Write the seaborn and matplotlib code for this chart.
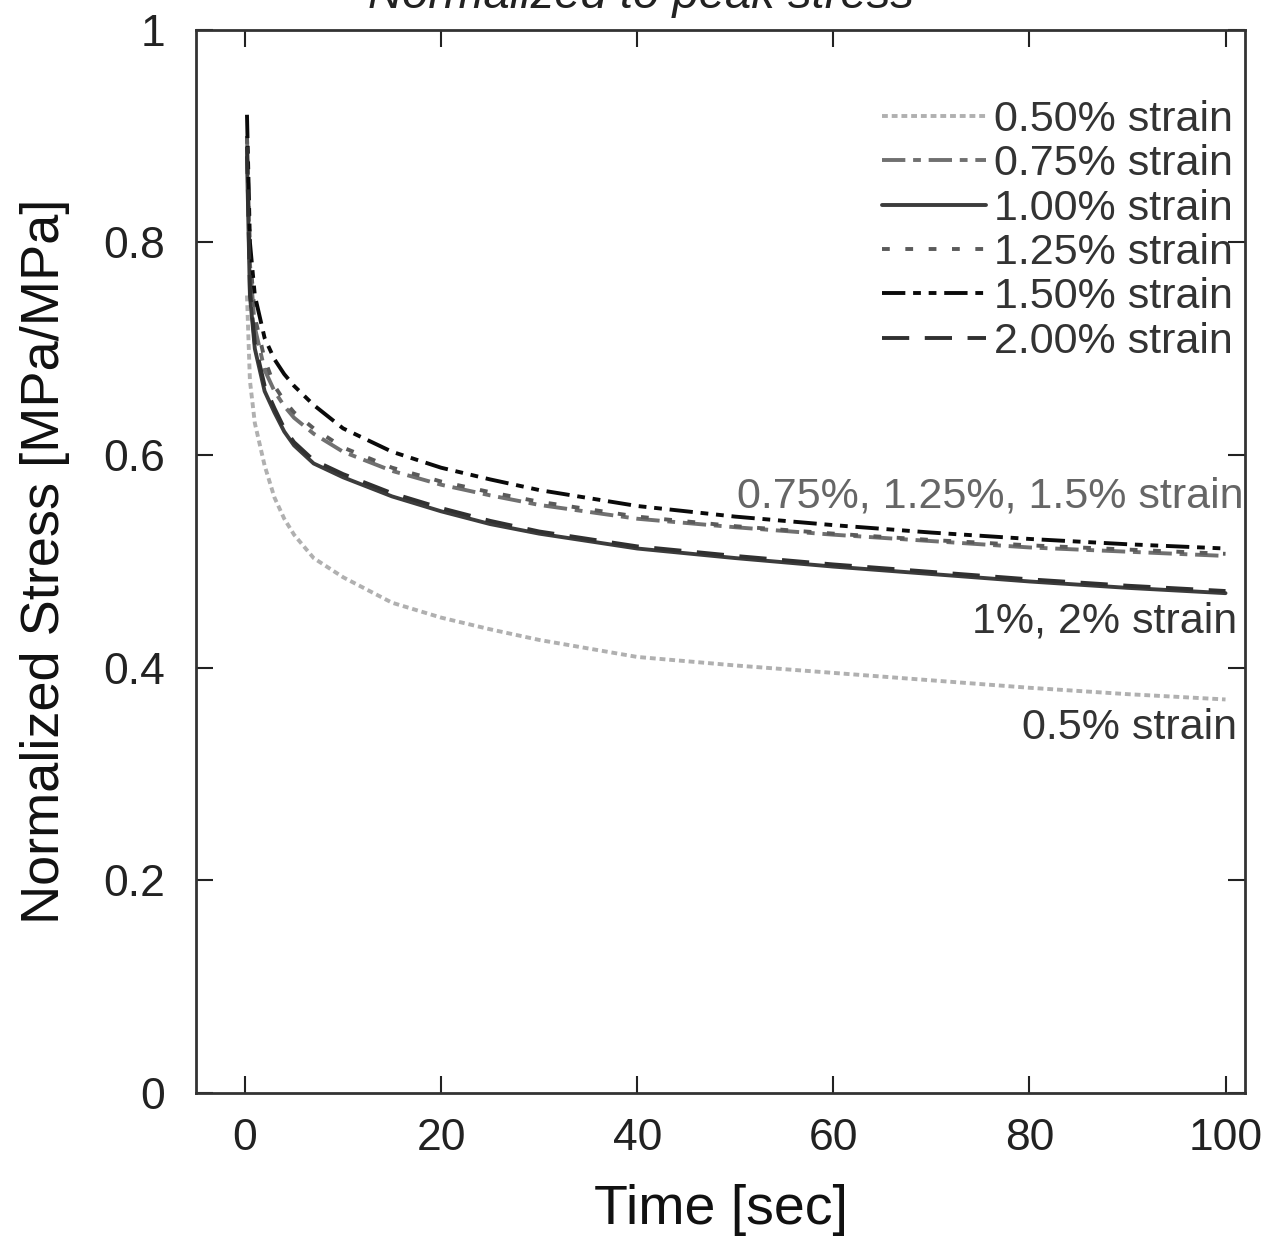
import numpy as np
import pandas as pd
import matplotlib
matplotlib.use('Agg')
import matplotlib.pyplot as plt
import seaborn as sns

# time points [sec]
time = [0.2, 0.5, 1, 2, 3, 4, 5, 7, 10, 15, 20, 25, 30, 40, 50, 60, 70, 80, 90, 100]

# normalized stress for each strain level
s050 = [0.75, 0.67, 0.63, 0.59, 0.56, 0.54, 0.525, 0.503, 0.485, 0.461, 0.447, 0.436, 0.426, 0.41, 0.402, 0.395, 0.388, 0.381, 0.375, 0.37]
s075 = [0.90, 0.78, 0.72, 0.68, 0.66, 0.646, 0.635, 0.62, 0.603, 0.585, 0.572, 0.562, 0.553, 0.54, 0.532, 0.525, 0.519, 0.513, 0.509, 0.505]
s100 = [0.88, 0.75, 0.70, 0.66, 0.64, 0.622, 0.609, 0.592, 0.579, 0.561, 0.547, 0.535, 0.526, 0.512, 0.503, 0.495, 0.488, 0.481, 0.475, 0.47]
s125 = [0.90, 0.79, 0.73, 0.69, 0.665, 0.651, 0.64, 0.625, 0.607, 0.588, 0.575, 0.565, 0.556, 0.542, 0.533, 0.526, 0.520, 0.515, 0.511, 0.507]
s150 = [0.92, 0.80, 0.75, 0.71, 0.69, 0.676, 0.665, 0.647, 0.625, 0.603, 0.588, 0.577, 0.567, 0.552, 0.542, 0.534, 0.527, 0.521, 0.516, 0.512]
s200 = [0.89, 0.755, 0.705, 0.665, 0.644, 0.625, 0.612, 0.595, 0.582, 0.564, 0.550, 0.538, 0.528, 0.514, 0.505, 0.497, 0.490, 0.483, 0.477, 0.472]

labels = ['0.50% strain', '0.75% strain', '1.00% strain', '1.25% strain', '1.50% strain', '2.00% strain']
series = [s050, s075, s100, s125, s150, s200]
colors = ['#b0b0b0', '#707070', '#3c3c3c', '#5a5a5a', '#0a0a0a', '#303030']
styles = [(0, (1.5, 1)), (0, (6, 2, 2, 2)), '-', (0, (2, 4)), (0, (6, 2, 2, 2, 2, 2)), (0, (7, 4))]

sns.set_theme(style='ticks')
plt.rcParams['font.family'] = ['Liberation Sans', 'DejaVu Sans']

fig, ax = plt.subplots(figsize=(12.81, 12.39), dpi=100)
fig.subplots_adjust(left=0.153, right=0.972, top=0.976, bottom=0.118)

for lab, vals, c, ls in zip(labels, series, colors, styles):
    df = pd.DataFrame({'t': time, 'stress': vals})
    sns.lineplot(data=df, x='t', y='stress', ax=ax, color=c, lw=2.8, label=lab)
    ax.lines[-1].set_linestyle(ls)

ax.set_xlim(-5, 102)
ax.set_ylim(0, 1)
ax.set_xticks([0, 20, 40, 60, 80, 100])
ax.set_yticks([0, 0.2, 0.4, 0.6, 0.8, 1])
ax.set_yticklabels(['0', '0.2', '0.4', '0.6', '0.8', '1'])
ax.tick_params(direction='in', length=12, width=1.5, labelsize=32, top=True, right=True, colors='#222222')
ax.tick_params(axis='x', pad=18)
ax.tick_params(axis='y', pad=22)
for sp in ax.spines.values():
    sp.set_linewidth(2)
    sp.set_color('#333333')

ax.set_xlabel('Time [sec]', fontsize=40, color='#111111', labelpad=18)
ax.set_ylabel('Normalized Stress [MPa/MPa]', fontsize=39, color='#111111', labelpad=24)

leg = ax.legend(loc='upper right', frameon=False, fontsize=31, handlelength=2.4,
                handletextpad=0.2, labelspacing=0.1, borderaxespad=0.0,
                bbox_to_anchor=(1.005, 0.95))
for t in leg.get_texts():
    t.set_color('#333333')

ax.text(101.8, 0.561, '0.75%, 1.25%, 1.5% strain', ha='right', va='center', fontsize=31, color='#666666')
ax.text(101.2, 0.443, '1%, 2% strain', ha='right', va='center', fontsize=31, color='#333333')
ax.text(101.2, 0.343, '0.5% strain', ha='right', va='center', fontsize=31, color='#333333')

fig.text(0.5, 1 - 8 / 1239, 'Normalized to peak stress', ha='center', va='baseline', fontsize=34,
         style='italic', color='#222222')

fig.savefig('out.png', dpi=100)
